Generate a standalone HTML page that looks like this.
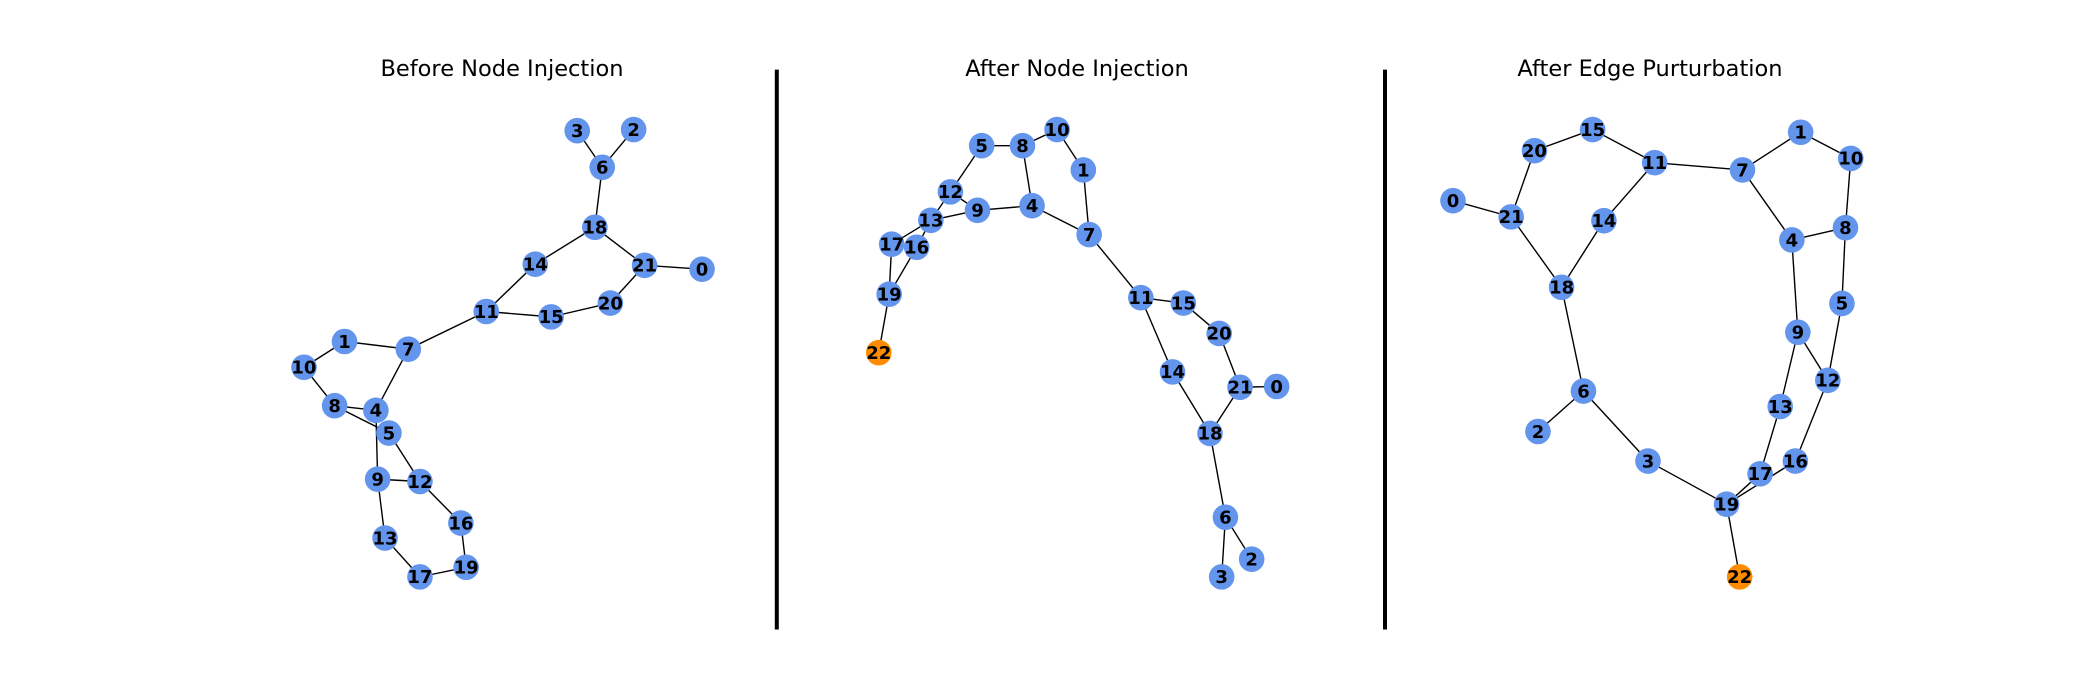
<!DOCTYPE html>
<html><head><meta charset="utf-8">
<style>html,body{margin:0;padding:0;background:#fff;}svg{display:block;}</style>
</head><body>
<svg id="chart" width="2100" height="700" xmlns="http://www.w3.org/2000/svg">
<rect width="2100" height="700" fill="#fff"/>
<line x1="776.8" y1="69.6" x2="776.8" y2="629.5" stroke="#000" stroke-width="4"/>
<line x1="1385" y1="69.6" x2="1385" y2="629.5" stroke="#000" stroke-width="4"/>
<text x="502" y="76" font-family="DejaVu Sans, Liberation Sans, sans-serif" font-size="22.5" text-anchor="middle">Before Node Injection</text>
<text x="1077" y="76" font-family="DejaVu Sans, Liberation Sans, sans-serif" font-size="22.5" text-anchor="middle">After Node Injection</text>
<text x="1650" y="76" font-family="DejaVu Sans, Liberation Sans, sans-serif" font-size="22.5" text-anchor="middle">After Edge Purturbation</text>
</svg>
<script>
// Panel 1: node ids, layout x, layout y, edges
const p1Ids = [0,1,2,3,4,5,6,7,8,9,10,11,12,13,14,15,16,17,18,19,20,21];
const p1X = [1282,268,1088,928,357,394,999,449,240,362,153,670,482,383,809,854,598,482,978,613,1022,1119];
const p1Y = [573,761,210,213,940,999,308,781,928,1119,828,683,1125,1272,560,697,1233,1373,464,1348,661,563];
const p1Edges = [[3,6],[2,6],[6,18],[18,14],[18,21],[21,0],[21,20],[20,15],[15,11],[11,14],[11,7],[7,1],[1,10],[10,8],[8,4],[8,5],[7,4],[4,9],[5,12],[9,12],[9,13],[12,16],[16,19],[19,17],[17,13]];
const p1Injected = [];

// Panel 2
const p2Ids = [10,8,5,1,12,9,4,13,7,17,16,19,22,11,15,20,14,21,0,18,6,2,3];
const p2X = [713,630,532,776,457,522,653,410,790,316,376,310,285,914,1016,1102,990,1152,1240,1080,1117,1180,1108];
const p2Y = [210,252,252,315,372,420,408,446,483,508,516,638,790,647,661,740,840,880,878,1000,1218,1327,1373];
const p2Edges = [[5,8],[8,10],[10,1],[1,7],[8,4],[4,9],[4,7],[5,12],[12,9],[12,13],[13,9],[13,17],[13,16],[17,19],[16,19],[19,22],[7,11],[11,15],[15,20],[20,21],[21,0],[11,14],[14,18],[21,18],[18,6],[6,2],[6,3]];
const p2Injected = [22];

// Panel 3
const p3Ids = [15,20,11,7,1,10,0,21,14,4,8,18,5,9,12,6,13,2,3,16,17,19,22];
const p3X = [603,438,779,1028,1193,1335,207,372,635,1168,1320,515,1310,1185,1270,577,1135,448,760,1178,1078,983,1020];
const p3Y = [210,265,296,315,217,285,395,437,447,497,465,620,662,737,862,890,930,995,1072,1072,1105,1184,1373];
const p3Edges = [[20,15],[15,11],[11,7],[7,1],[1,10],[10,8],[8,4],[7,4],[0,21],[21,20],[21,18],[11,14],[14,18],[18,6],[6,2],[6,3],[3,19],[4,9],[9,13],[9,12],[8,5],[5,12],[12,16],[16,19],[17,19],[13,17],[19,22]];
const p3Injected = [22];

const NS = 'http://www.w3.org/2000/svg';
const svg = document.getElementById('chart');

function drawPanel(key, ids, xs, ys, edges, injected, x0, hx, vy) {
  const sx = v => x0 + v / hx;
  const sy = v => 48.8 + v / vy;
  const g = document.createElementNS(NS, 'g');
  
  
  svg.appendChild(g);
  const pos = {};
  ids.forEach((id, i) => { pos[id] = [sx(xs[i]), sy(ys[i])]; });
  edges.forEach(e => {
    const a = pos[e[0]], b = pos[e[1]];
    const l = document.createElementNS(NS, 'line');
    l.setAttribute('x1', a[0]); l.setAttribute('y1', a[1]);
    l.setAttribute('x2', b[0]); l.setAttribute('y2', b[1]);
    l.setAttribute('stroke', '#000'); l.setAttribute('stroke-width', '1.4');
    
    
    g.appendChild(l);
  });
  ids.forEach(id => {
    const p = pos[id];
    const c = document.createElementNS(NS, 'circle');
    c.setAttribute('cx', p[0]); c.setAttribute('cy', p[1]); c.setAttribute('r', '12.8');
    c.setAttribute('fill', injected.indexOf(id) >= 0 ? '#ff8c00' : '#6495ed');
    
    
    g.appendChild(c);
    const t = document.createElementNS(NS, 'text');
    t.setAttribute('x', p[0]); t.setAttribute('y', p[1] + 6.3);
    t.setAttribute('text-anchor', 'middle');
    t.setAttribute('font-family', 'DejaVu Sans, Liberation Sans, sans-serif');
    t.setAttribute('font-weight', 'bold');
    t.setAttribute('font-size', '18');
    t.textContent = String(id);
    
    
    g.appendChild(t);
  });
}
drawPanel('before', p1Ids, p1X, p1Y, p1Edges, p1Injected, 250, 2.836, 2.6);
drawPanel('after-injection', p2Ids, p2X, p2Y, p2Edges, p2Injected, 760, 2.4, 2.6);
drawPanel('after-perturbation', p3Ids, p3X, p3Y, p3Edges, p3Injected, 1380, 2.836, 2.6);
</script>
</body></html>
